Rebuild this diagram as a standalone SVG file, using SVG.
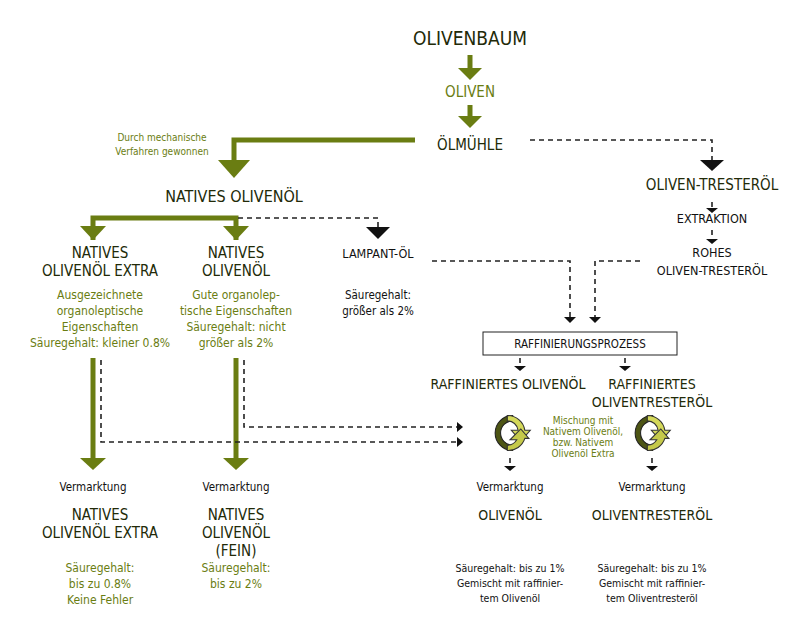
<svg xmlns="http://www.w3.org/2000/svg" width="800" height="637" viewBox="0 0 800 637">
<defs>
<style>
text{font-family:"DejaVu Sans Condensed","Liberation Sans",sans-serif;text-anchor:middle}
.t{fill:#222a08;font-size:15px}
.big{fill:#222a08;font-size:19px}
.g{fill:#6a7d12;font-size:12px}
.k{fill:#111;font-size:11.5px}
.gs{fill:#6a7d12;font-size:10px}
.gl{stroke:#6a7d12;stroke-width:5;fill:none}
.dl{stroke:#222;stroke-width:1.6;stroke-dasharray:5,4;fill:none}
.gt{fill:#6a7d12}
.bt{fill:#111}
</style>
<g id="cyc">
<path d="M2,-13 A13,13 0 0 0 2,13 L2,9 A9,9 0 0 1 2,-9 Z" fill="#4d5514" stroke="#222" stroke-width="0.8"/>
<path d="M-2,-13 A13,13 0 0 1 11,-2 L15,-2 L8,6 L1,-2 L6,-2 A8,8 0 0 0 -2,-9 Z" fill="#d4d85a" stroke="#333" stroke-width="0.8"/>
<path d="M-2,13 A13,13 0 0 0 11,4 L14,4 L8,-3 L0,5 L5,5 A8,8 0 0 1 -2,9 Z" fill="#c5c94a" stroke="#333" stroke-width="0.8"/>
</g>
</defs>
<rect width="800" height="637" fill="#fff"/>
<g id="connectors">
<line class="gl" x1="470" y1="55" x2="470" y2="70"/><polygon class="gt" points="458,68 482,68 470,80"/>
<line class="gl" x1="470" y1="105" x2="470" y2="118"/><polygon class="gt" points="458,116 482,116 470,128"/>
<polyline class="gl" points="415,140 234,140 234,162"/><polygon class="gt" points="218,160 250,160 234,178"/>
<polyline class="dl" points="530,140 712,140 712,160"/><polygon class="bt" points="700,160 724,160 712,171"/>
<line class="dl" x1="712" y1="202" x2="712" y2="209"/><polygon class="bt" points="706,208 718,208 712,213"/>
<line class="dl" x1="712" y1="230" x2="712" y2="240"/><polygon class="bt" points="706,239 718,239 712,244"/>
<polyline class="gl" points="93,240 93,218 236,218 236,240"/>
<polygon class="gt" points="80,226 106,226 93,240"/><polygon class="gt" points="223,226 249,226 236,240"/>
<polyline class="dl" points="238,218 378,218 378,228"/><polygon class="bt" points="366,227 390,227 378,239"/>
<polyline class="dl" points="432,261 570,261 570,318"/><polygon class="bt" points="564,317 576,317 570,323"/>
<polyline class="dl" points="640,261 595,261 595,318"/><polygon class="bt" points="589,317 601,317 595,323"/>
<line class="dl" x1="520" y1="358" x2="520" y2="366"/><polygon class="bt" points="514,366 526,366 520,371"/>
<line class="dl" x1="625" y1="358" x2="625" y2="366"/><polygon class="bt" points="619,366 631,366 625,371"/>
<line class="dl" x1="510" y1="458" x2="510" y2="466"/><polygon class="bt" points="504,466 516,466 510,471"/>
<line class="dl" x1="652" y1="458" x2="652" y2="466"/><polygon class="bt" points="646,466 658,466 652,471"/>
<line class="gl" x1="93" y1="358" x2="93" y2="460"/><polygon class="gt" points="80,458 106,458 93,470"/>
<line class="gl" x1="236" y1="358" x2="236" y2="460"/><polygon class="gt" points="223,458 249,458 236,470"/>
<polyline class="dl" points="101,360 101,442 458,442"/><polygon class="bt" points="457,437 457,447 463,442"/>
<polyline class="dl" points="244,360 244,427 458,427"/><polygon class="bt" points="457,422 457,432 463,427"/>
</g>
<g id="olivenbaum"><text class="big" x="470" y="45">OLIVENBAUM</text></g>
<g id="oliven"><text class="t" x="470" y="97" style="fill:#6a7d12">OLIVEN</text></g>
<g id="oelmuehle"><text class="t" x="470" y="150">ÖLMÜHLE</text></g>
<g id="mech"><text class="gs" x="162" y="141">Durch mechanische</text><text class="gs" x="162" y="155">Verfahren gewonnen</text></g>
<g id="trester"><text class="t" x="712" y="190">OLIVEN-TRESTERÖL</text></g>
<g id="extraktion"><text class="k" x="712" y="223" style="font-size:12.5px">EXTRAKTION</text></g>
<g id="rohes"><text class="k" x="712" y="257" style="font-size:12.5px">ROHES</text><text class="k" x="712" y="275" style="font-size:12.5px">OLIVEN-TRESTERÖL</text></g>
<g id="natives"><text class="t" x="234" y="202" style="font-size:16px">NATIVES OLIVENÖL</text></g>
<g id="extra"><text class="t" x="100" y="258">NATIVES</text><text class="t" x="100" y="276">OLIVENÖL EXTRA</text>
<text class="g" x="100" y="299">Ausgezeichnete</text><text class="g" x="100" y="315">organoleptische</text><text class="g" x="100" y="331">Eigenschaften</text><text class="g" x="100" y="347">Säuregehalt: kleiner 0.8%</text></g>
<g id="nativ2"><text class="t" x="236" y="258">NATIVES</text><text class="t" x="236" y="276">OLIVENÖL</text>
<text class="g" x="236" y="299">Gute organolep-</text><text class="g" x="236" y="315">tische Eigenschaften</text><text class="g" x="236" y="331">Säuregehalt: nicht</text><text class="g" x="236" y="347">größer als 2%</text></g>
<g id="lampant"><text class="k" x="378" y="258" style="font-size:12.5px">LAMPANT-ÖL</text><text class="k" x="378" y="299">Säuregehalt:</text><text class="k" x="378" y="315">größer als 2%</text></g>
<g id="raff"><rect x="483" y="332" width="194" height="23" fill="#fff" stroke="#222" stroke-width="1"/><text class="k" x="580" y="348">RAFFINIERUNGSPROZESS</text></g>
<g id="raffoel"><text class="t" x="508" y="389" style="font-size:14px">RAFFINIERTES OLIVENÖL</text></g>
<g id="rafftr"><text class="t" x="652" y="389" style="font-size:14px">RAFFINIERTES</text><text class="t" x="652" y="407" style="font-size:14px">OLIVENTRESTERÖL</text></g>
<g id="icon1"><use href="#cyc" transform="translate(510,433) scale(1.35)"/></g>
<g id="icon2"><use href="#cyc" transform="translate(650,433) scale(1.35)"/></g>
<g id="mischung"><text class="gs" x="583" y="424">Mischung mit</text><text class="gs" x="583" y="435">Nativem Olivenöl,</text><text class="gs" x="583" y="446">bzw. Nativem</text><text class="gs" x="583" y="457">Olivenöl Extra</text></g>
<g id="v1"><text class="k" x="93" y="491">Vermarktung</text><text class="t" x="100" y="520">NATIVES</text><text class="t" x="100" y="538">OLIVENÖL EXTRA</text>
<text class="g" x="100" y="572">Säuregehalt:</text><text class="g" x="100" y="588">bis zu 0.8%</text><text class="g" x="100" y="604">Keine Fehler</text></g>
<g id="v2"><text class="k" x="236" y="491">Vermarktung</text><text class="t" x="236" y="520">NATIVES</text><text class="t" x="236" y="538">OLIVENÖL</text><text class="t" x="236" y="556">(FEIN)</text>
<text class="g" x="236" y="572">Säuregehalt:</text><text class="g" x="236" y="588">bis zu 2%</text></g>
<g id="v3"><text class="k" x="510" y="491">Vermarktung</text><text class="t" x="510" y="520" style="font-size:14px">OLIVENÖL</text>
<text class="k" x="510" y="572" style="font-size:10.5px">Säuregehalt: bis zu 1%</text><text class="k" x="510" y="587" style="font-size:10.5px">Gemischt mit raffinier-</text><text class="k" x="510" y="602" style="font-size:10.5px">tem Olivenöl</text></g>
<g id="v4"><text class="k" x="652" y="491">Vermarktung</text><text class="t" x="652" y="520" style="font-size:14px">OLIVENTRESTERÖL</text>
<text class="k" x="652" y="572" style="font-size:10.5px">Säuregehalt: bis zu 1%</text><text class="k" x="652" y="587" style="font-size:10.5px">Gemischt mit raffinier-</text><text class="k" x="652" y="602" style="font-size:10.5px">tem Oliventresteröl</text></g>
</svg>
